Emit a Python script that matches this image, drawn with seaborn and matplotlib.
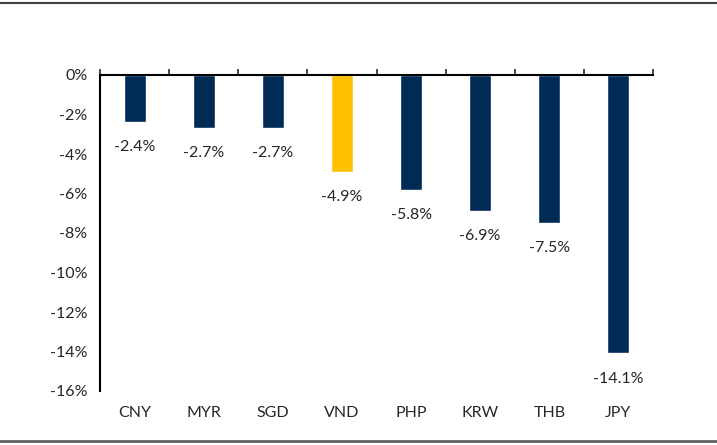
import matplotlib as mpl
mpl.use('Agg')
import matplotlib.pyplot as plt
from matplotlib.lines import Line2D
from matplotlib.ticker import FixedLocator, FuncFormatter
import seaborn as sns
import pandas as pd

currencies = ["CNY", "MYR", "SGD", "VND", "PHP", "KRW", "THB", "JPY"]
change_pct = [-2.4, -2.7, -2.7, -4.9, -5.8, -6.9, -7.5, -14.1]
highlight = "VND"

navy = "#002B55"
gold = "#FFC000"

df = pd.DataFrame({"currency": currencies, "change": change_pct})
palette = {c: (gold if c == highlight else navy) for c in currencies}

sns.set_style("white")
plt.rcParams['font.family'] = ['Lato', 'DejaVu Sans']

fig = plt.figure(figsize=(7.17, 4.45), dpi=100)
ax = fig.add_axes([100 / 717, 1 - 391 / 445, (653 - 100) / 717, (391 - 75) / 445])

sns.barplot(data=df, x="currency", y="change", hue="currency", palette=palette,
            width=0.32, legend=False, ax=ax, saturation=1)

ax.set_ylim(-16, 0)
ax.set_xlim(-0.5, len(currencies) - 0.5)
ax.set_yticks(range(-16, 1, 2))
ax.yaxis.set_major_formatter(FuncFormatter(lambda v, p: "{:.0f}%".format(v)))
ax.tick_params(axis='y', direction='inout', length=8, width=1.5, labelsize=11.5, pad=5)

# x ticks at category boundaries, labels below the plot area
ax.xaxis.set_major_locator(FixedLocator([i - 0.5 for i in range(len(currencies) + 1)]))
ax.xaxis.set_ticklabels([])
ax.xaxis.tick_top()
ax.tick_params(axis='x', direction='out', length=4, width=1.2, top=True, bottom=False)
ax.set_xlabel("")
ax.set_ylabel("")

for s in ["right", "bottom"]:
    ax.spines[s].set_visible(False)
for s in ["left", "top"]:
    ax.spines[s].set_linewidth(1.5)
    ax.spines[s].set_color("black")

for i, (c, v) in enumerate(zip(currencies, change_pct)):
    ax.annotate("{:.1f}%".format(v), (i, v), xytext=(0, -13), textcoords="offset points",
                ha="center", va="top", fontsize=11.5)
    ax.annotate(c, (i, -16), xytext=(0, -11), textcoords="offset points",
                ha="center", va="top", fontsize=11.5, annotation_clip=False)

fig.add_artist(Line2D([0, 1], [1 - 3 / 445, 1 - 3 / 445], color="#404040", lw=1.5))
fig.add_artist(Line2D([0, 1], [1 - 441 / 445, 1 - 441 / 445], color="#606060", lw=2))

fig.savefig("out.png", dpi=100)
